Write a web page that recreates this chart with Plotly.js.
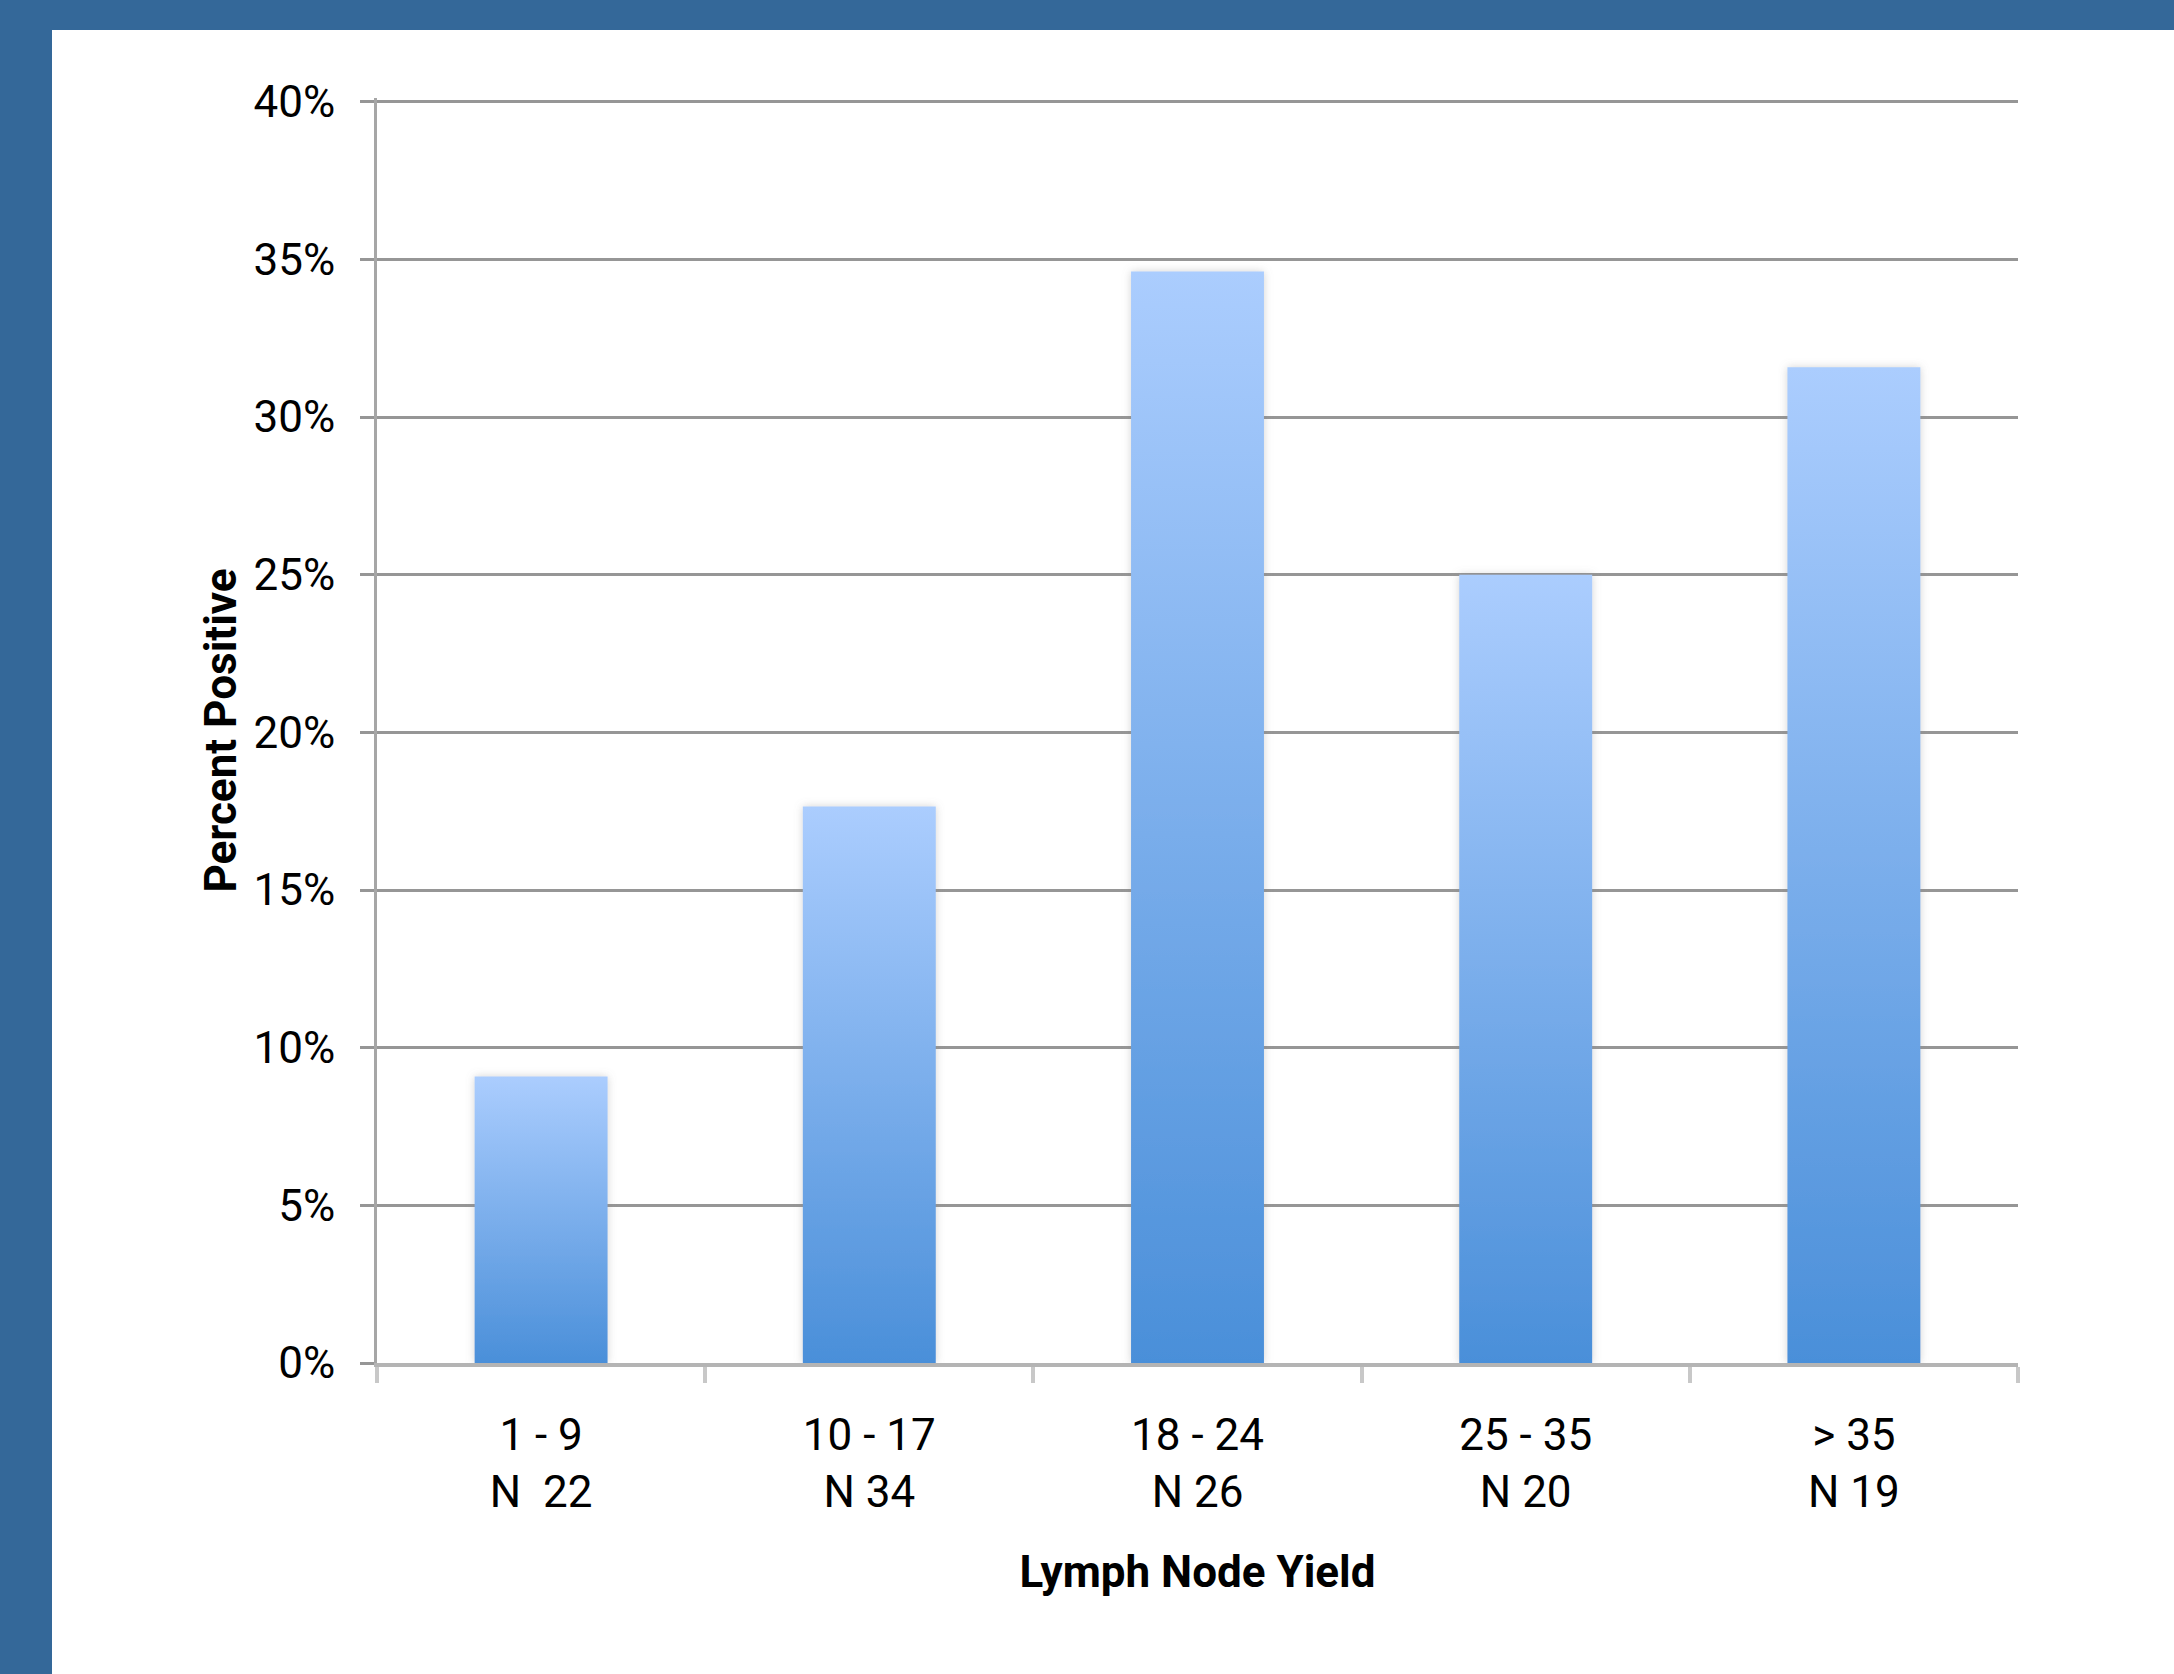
<!DOCTYPE html>
<html>
<head>
<meta charset="utf-8">
<script src="https://cdn.plot.ly/plotly-3.0.1.min.js"></script>
<style>
  html, body { margin: 0; padding: 0; width: 2174px; height: 1674px; background: #346899; overflow: hidden; }
  #chart { position: absolute; left: 52px; top: 30px; width: 2122px; height: 1644px; background: #ffffff; }
</style>
</head>
<body>
<div id="chart"></div>
<script>
// Data
const categories = ["1 - 9<br>N\u00a0 22", "10 - 17<br>N 34", "18 - 24<br>N 26", "25 - 35<br>N 20", "> 35<br>N 19"];
const percentPositive = [0.0909, 0.1765, 0.3462, 0.25, 0.3158];
const yTickValues = [0, 0.05, 0.10, 0.15, 0.20, 0.25, 0.30, 0.35, 0.40];
const yAxisTitle = "Percent Positive";
const xAxisTitle = "Lymph Node Yield";

const fontFamily = 'Roboto, "Liberation Sans", sans-serif';

const trace = {
  type: 'bar',
  x: categories,
  y: percentPositive,
  width: 0.405,
  marker: { color: '#6fa6ea', line: { width: 0 } },
  hoverinfo: 'skip'
};

const layout = {
  width: 2122,
  height: 1644,
  margin: { l: 325, r: 156, t: 68, b: 311 },
  paper_bgcolor: '#ffffff',
  plot_bgcolor: '#ffffff',
  showlegend: false,
  font: { family: fontFamily, color: '#000000', size: 44 },
  xaxis: {
    type: 'category',
    showline: true,
    linecolor: '#b4b4b4',
    linewidth: 4,
    ticks: 'outside',
    tickson: 'boundaries',
    ticklen: 16,
    tickwidth: 4,
    tickcolor: '#c8c8c8',
    showgrid: false,
    zeroline: false,
    tickfont: { family: fontFamily, size: 44, color: '#000000' },
    ticklabelstandoff: 30,
    title: { text: xAxisTitle, font: { family: fontFamily, size: 44, color: '#000000', weight: 'bold' }, standoff: 40 }
  },
  yaxis: {
    range: [0, 0.4012],
    tickvals: yTickValues,
    tickformat: '.0%',
    showline: true,
    linecolor: '#a6a6a6',
    linewidth: 3,
    ticks: 'outside',
    ticklen: 14,
    tickwidth: 3,
    tickcolor: '#969696',
    showgrid: true,
    gridcolor: '#969696',
    gridwidth: 3,
    zeroline: false,
    tickfont: { family: fontFamily, size: 44, color: '#000000' },
    ticklabelstandoff: 16,
    title: { text: yAxisTitle, font: { family: fontFamily, size: 44, color: '#000000', weight: 'bold' }, standoff: 4 }
  }
};

Plotly.newPlot('chart', [trace], layout, { staticPlot: true, displayModeBar: false }).then(function (gd) {
  const svgNS = 'http://www.w3.org/2000/svg';
  const svg = gd.querySelector('svg.main-svg');
  const defs = document.createElementNS(svgNS, 'defs');
  const grad = document.createElementNS(svgNS, 'linearGradient');
  grad.setAttribute('id', 'barGrad');
  grad.setAttribute('x1', '0'); grad.setAttribute('y1', '0');
  grad.setAttribute('x2', '0'); grad.setAttribute('y2', '1');
  [['0', '#abcdfe'], ['1', '#4a8fd9']].forEach(function (s) {
    const st = document.createElementNS(svgNS, 'stop');
    st.setAttribute('offset', s[0]);
    st.setAttribute('stop-color', s[1]);
    grad.appendChild(st);
  });
  defs.appendChild(grad);
  const filt = document.createElementNS(svgNS, 'filter');
  filt.setAttribute('id', 'barShadow');
  filt.setAttribute('x', '-20%'); filt.setAttribute('y', '-5%');
  filt.setAttribute('width', '140%'); filt.setAttribute('height', '110%');
  const ds = document.createElementNS(svgNS, 'feDropShadow');
  ds.setAttribute('dx', '0'); ds.setAttribute('dy', '0');
  ds.setAttribute('stdDeviation', '4');
  ds.setAttribute('flood-color', '#808080');
  ds.setAttribute('flood-opacity', '0.35');
  filt.appendChild(ds);
  defs.appendChild(filt);
  svg.insertBefore(defs, svg.firstChild);
  gd.querySelectorAll('.bars .point path').forEach(function (p) {
    p.style.fill = 'url(#barGrad)';
    p.setAttribute('filter', 'url(#barShadow)');
  });
});
</script>
</body>
</html>
